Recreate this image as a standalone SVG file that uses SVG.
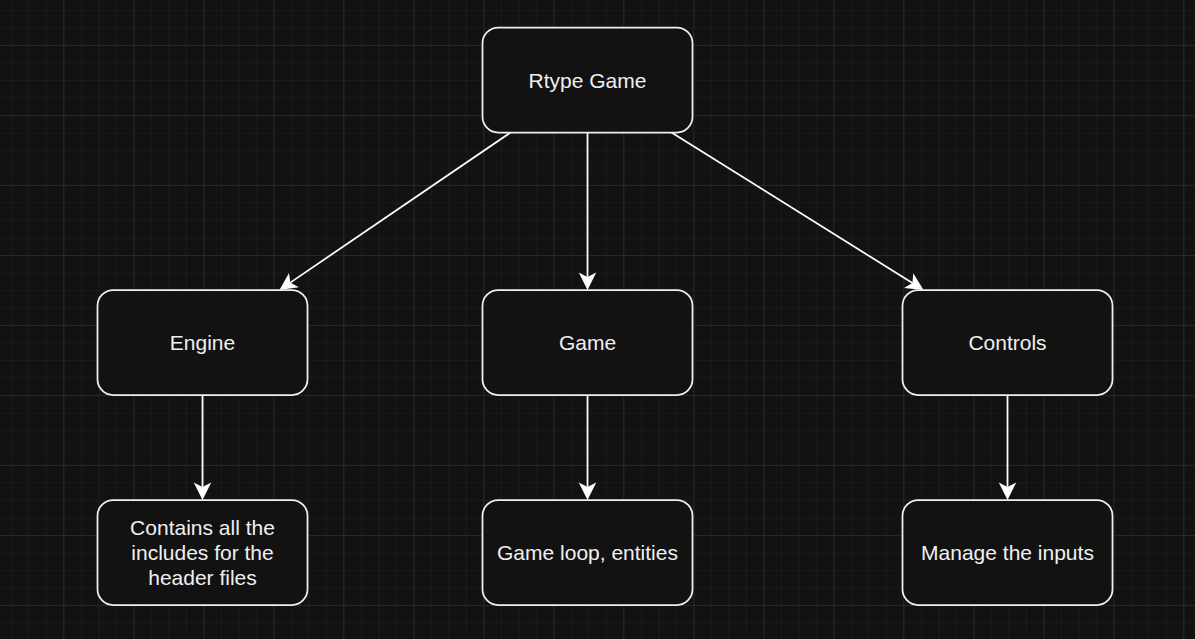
<svg xmlns="http://www.w3.org/2000/svg" width="1195" height="639" viewBox="0 0 1195 639">
  <defs>
    <pattern id="minor" x="10.83" y="10" width="17.5" height="17.5" patternUnits="userSpaceOnUse">
      <path d="M0,0 V17.5 M0,0 H17.5" fill="none" stroke="#222222" stroke-width="1"/>
    </pattern>
    <pattern id="major" x="63.33" y="45" width="70" height="70" patternUnits="userSpaceOnUse">
      <path d="M0,0 V70 M0,0 H70" fill="none" stroke="#333333" stroke-width="1"/>
    </pattern>
    <marker id="arrow" viewBox="0 -10 20 20" refX="4.375" refY="0" markerWidth="20" markerHeight="20" markerUnits="userSpaceOnUse" orient="auto" overflow="visible">
      <path d="M0,-8.75 L17.5,0 L0,8.75 L4.375,0 Z" fill="#ffffff"/>
    </marker>
  </defs>
  <style>
    .box { fill: #121212; stroke: #f0f0f0; stroke-width: 1.75; }
    .lbl { font-family: "Liberation Sans", Arial, sans-serif; font-size: 21px; fill: #f0f0f0; text-anchor: middle; }
    .edge { fill: none; stroke: #ffffff; stroke-width: 1.75; marker-end: url(#arrow); }
  </style>
  <rect x="0" y="0" width="1195" height="639" fill="#121212"/>
  <rect x="0" y="0" width="1195" height="639" fill="url(#minor)"/>
  <rect x="0" y="0" width="1195" height="639" fill="url(#major)"/>

  <g id="connectors">
    <path class="edge" d="M510.5,132.5 L290.3,282.6"/>
    <path class="edge" d="M587.5,132.5 L587.5,276.9"/>
    <path class="edge" d="M671.5,132.5 L912.4,283.0"/>
    <path class="edge" d="M202.5,395 L202.5,486.9"/>
    <path class="edge" d="M587.5,395 L587.5,486.9"/>
    <path class="edge" d="M1007.5,395 L1007.5,486.9"/>
  </g>

  <g id="rtype-game">
    <rect class="box" x="482.5" y="27.5" width="210" height="105" rx="15.75" ry="15.75"/>
    <text class="lbl" x="587.5" y="87.8">Rtype Game</text>
  </g>
  <g id="engine">
    <rect class="box" x="97.5" y="290" width="210" height="105" rx="15.75" ry="15.75"/>
    <text class="lbl" x="202.5" y="349.8">Engine</text>
  </g>
  <g id="game">
    <rect class="box" x="482.5" y="290" width="210" height="105" rx="15.75" ry="15.75"/>
    <text class="lbl" x="587.5" y="349.8">Game</text>
  </g>
  <g id="controls">
    <rect class="box" x="902.5" y="290" width="210" height="105" rx="15.75" ry="15.75"/>
    <text class="lbl" x="1007.5" y="349.8">Controls</text>
  </g>
  <g id="engine-desc">
    <rect class="box" x="97.5" y="500" width="210" height="105" rx="15.75" ry="15.75"/>
    <text class="lbl" x="202.5" y="534.8">Contains all the</text>
    <text class="lbl" x="202.5" y="559.8">includes for the</text>
    <text class="lbl" x="202.5" y="585">header files</text>
  </g>
  <g id="game-desc">
    <rect class="box" x="482.5" y="500" width="210" height="105" rx="15.75" ry="15.75"/>
    <text class="lbl" x="587.5" y="559.8">Game loop, entities</text>
  </g>
  <g id="controls-desc">
    <rect class="box" x="902.5" y="500" width="210" height="105" rx="15.75" ry="15.75"/>
    <text class="lbl" x="1007.5" y="559.8">Manage the inputs</text>
  </g>
</svg>
